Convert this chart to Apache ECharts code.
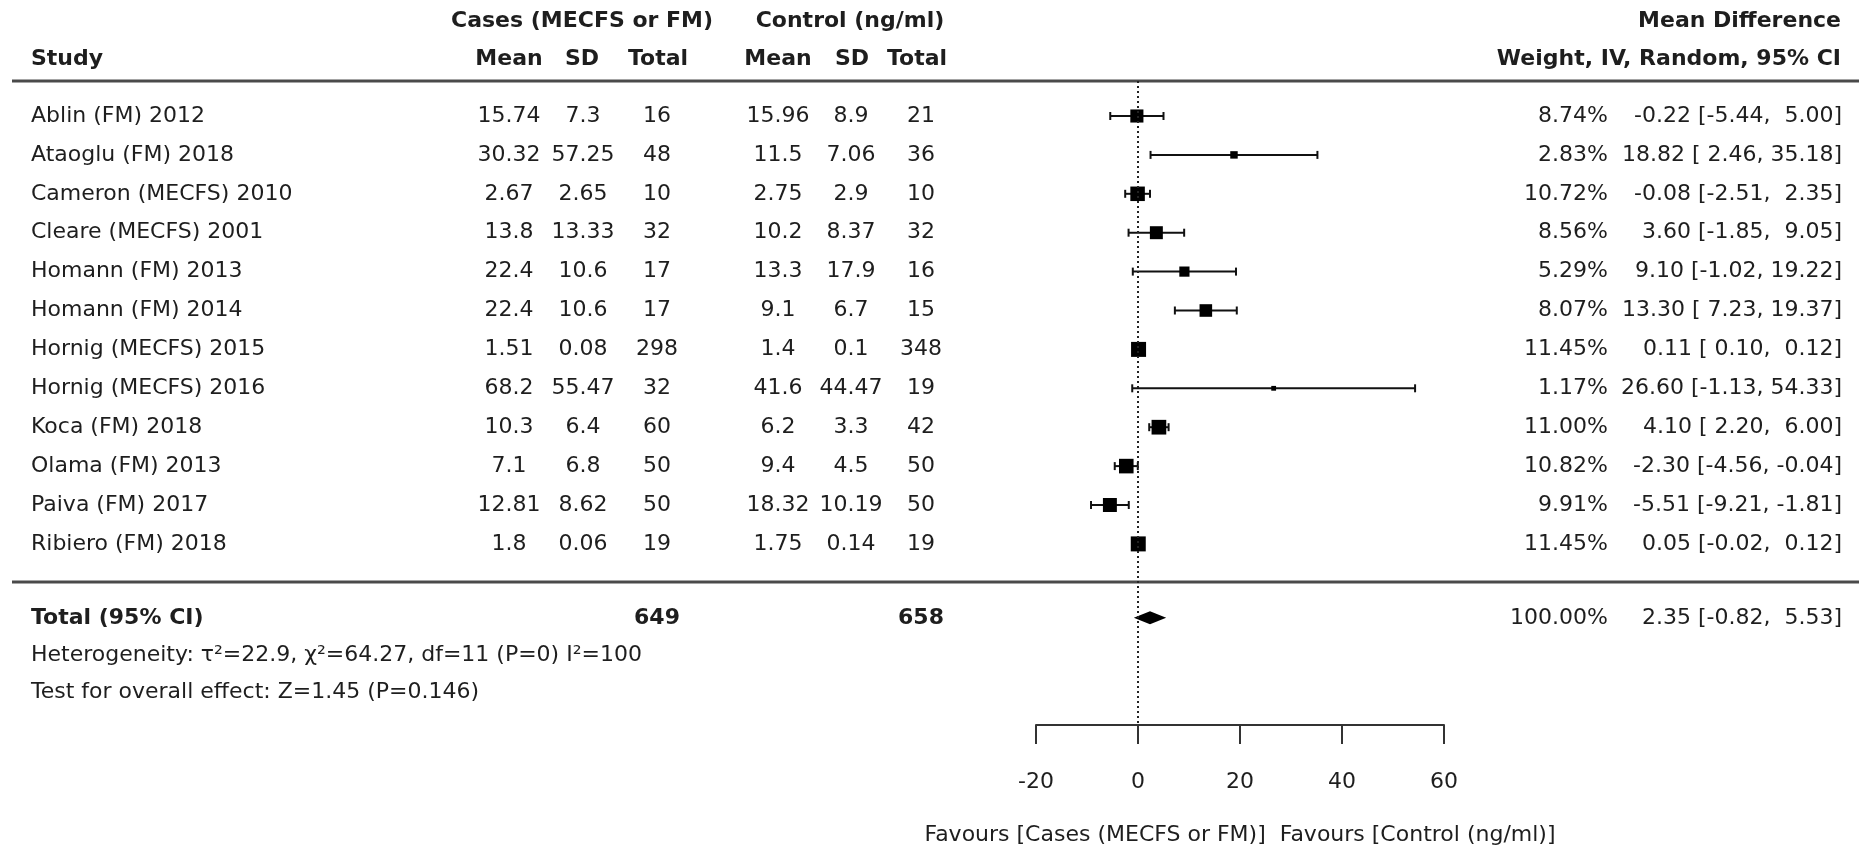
<!DOCTYPE html>
<html>
<head>
<meta charset="utf-8">
<script src="https://cdn.jsdelivr.net/npm/echarts@6/dist/echarts.min.js"></script>
<style>
html,body{margin:0;padding:0;background:#ffffff;}
#chart{width:1859px;height:845px;}
</style>
</head>
<body>
<div id="chart"></div>
<script>
// ---------------- DATA ----------------
const studies = ['Ablin (FM) 2012','Ataoglu (FM) 2018','Cameron (MECFS) 2010','Cleare (MECFS) 2001','Homann (FM) 2013','Homann (FM) 2014','Hornig (MECFS) 2015','Hornig (MECFS) 2016','Koca (FM) 2018','Olama (FM) 2013','Paiva (FM) 2017','Ribiero (FM) 2018'];
const casesMean  = [15.74, 30.32, 2.67, 13.8, 22.4, 22.4, 1.51, 68.2, 10.3, 7.1, 12.81, 1.8];
const casesSD    = [7.3, 57.25, 2.65, 13.33, 10.6, 10.6, 0.08, 55.47, 6.4, 6.8, 8.62, 0.06];
const casesTotal = [16, 48, 10, 32, 17, 17, 298, 32, 60, 50, 50, 19];
const ctrlMean   = [15.96, 11.5, 2.75, 10.2, 13.3, 9.1, 1.4, 41.6, 6.2, 9.4, 18.32, 1.75];
const ctrlSD     = [8.9, 7.06, 2.9, 8.37, 17.9, 6.7, 0.1, 44.47, 3.3, 4.5, 10.19, 0.14];
const ctrlTotal  = [21, 36, 10, 32, 16, 15, 348, 19, 42, 50, 50, 19];
const weights    = [8.74, 2.83, 10.72, 8.56, 5.29, 8.07, 11.45, 1.17, 11.00, 10.82, 9.91, 11.45];
const meanDiff   = [-0.22, 18.82, -0.08, 3.60, 9.10, 13.30, 0.11, 26.60, 4.10, -2.30, -5.51, 0.05];
const ciLower    = [-5.44, 2.46, -2.51, -1.85, -1.02, 7.23, 0.10, -1.13, 2.20, -4.56, -9.21, -0.02];
const ciUpper    = [5.00, 35.18, 2.35, 9.05, 19.22, 19.37, 0.12, 54.33, 6.00, -0.04, -1.81, 0.12];
const totalLabel = 'Total (95% CI)';
const totalCases = 649;
const totalCtrl  = 658;
const totalWeight = 100.00;
const totalMD    = 2.35;
const totalLower = -0.82;
const totalUpper = 5.53;
const xTicks = [-20, 0, 20, 40, 60];
const headerCases = 'Cases (MECFS or FM)';
const headerCtrl = 'Control (ng/ml)';
const headerEffect1 = 'Mean Difference';
const headerEffect2 = 'Weight, IV, Random, 95% CI';
const colHeaders = ['Mean', 'SD', 'Total', 'Mean', 'SD', 'Total'];
const heterogeneityText = 'Heterogeneity: τ²=22.9, χ²=64.27, df=11 (P=0) I²=100';
const overallText = 'Test for overall effect: Z=1.45 (P=0.146)';
const axisTitle = 'Favours [Cases (MECFS or FM)]  Favours [Control (ng/ml)]';

// ---------------- LAYOUT ----------------
const FONT = '"DejaVu Sans", "Liberation Sans", sans-serif';
const FS = 22;
const TXT = '#1e1e1e';
const ROW0 = 116, ROWH = 38.9;          // pixel centre of first study row, row pitch
const GRID_TOP = 81, GRID_BOTTOM_Y = 725;
const TOTAL_ROW = 12.9;
const HEAD1_Y = 21, HEAD2_Y = 59;
const COL = {study: 31, cMean: 509, cSD: 583, cTot: 657, kMean: 778, kSD: 851, kTot: 921, weight: 1608, ci: 1842};
const yMin = (GRID_TOP - ROW0) / ROWH;
const yMax = (GRID_BOTTOM_Y - ROW0) / ROWH;

function pad5(v) { const s = v.toFixed(2); return s.length < 5 ? ' '.repeat(5 - s.length) + s : s; }
function ciText(m, lo, hi) { return m.toFixed(2) + ' [' + pad5(lo) + ', ' + pad5(hi) + ']'; }

const tableRows = studies.map((s, i) => ({
  row: i, bold: false,
  cells: [
    [COL.study, s, 'left'],
    [COL.cMean, String(casesMean[i]), 'center'],
    [COL.cSD, String(casesSD[i]), 'center'],
    [COL.cTot, String(casesTotal[i]), 'center'],
    [COL.kMean, String(ctrlMean[i]), 'center'],
    [COL.kSD, String(ctrlSD[i]), 'center'],
    [COL.kTot, String(ctrlTotal[i]), 'center'],
    [COL.weight, weights[i].toFixed(2) + '%', 'right'],
    [COL.ci, ciText(meanDiff[i], ciLower[i], ciUpper[i]), 'right']
  ]
}));
const totalRow = {
  row: TOTAL_ROW,
  cells: [
    [COL.study, totalLabel, 'left', true],
    [COL.cTot, String(totalCases), 'center', true],
    [COL.kTot, String(totalCtrl), 'center', true],
    [COL.weight, totalWeight.toFixed(2) + '%', 'right'],
    [COL.ci, ciText(totalMD, totalLower, totalUpper), 'right']
  ]
};
const allRows = tableRows.concat([totalRow]);

function textEl(x, y, s, align, bold) {
  return {
    type: 'text', x: x, y: y,
    style: {text: s, align: align, verticalAlign: 'middle', fill: TXT,
            font: (bold ? 'bold ' : '') + FS + 'px ' + FONT}
  };
}

const chart = echarts.init(document.getElementById('chart'), null, {renderer: 'canvas'});

const headerGraphics = [
  textEl(582, HEAD1_Y, headerCases, 'center', true),
  textEl(850, HEAD1_Y, headerCtrl, 'center', true),
  textEl(1841, HEAD1_Y, headerEffect1, 'right', true),
  textEl(COL.study, HEAD2_Y, 'Study', 'left', true),
  textEl(COL.cMean, HEAD2_Y, colHeaders[0], 'center', true),
  textEl(582, HEAD2_Y, colHeaders[1], 'center', true),
  textEl(658, HEAD2_Y, colHeaders[2], 'center', true),
  textEl(COL.kMean, HEAD2_Y, colHeaders[3], 'center', true),
  textEl(852, HEAD2_Y, colHeaders[4], 'center', true),
  textEl(917, HEAD2_Y, colHeaders[5], 'center', true),
  textEl(1841, HEAD2_Y, headerEffect2, 'right', true),
  {type: 'line', shape: {x1: 12, y1: 81, x2: 1859, y2: 81}, style: {stroke: '#4a4a4a', lineWidth: 3}},
  {type: 'line', shape: {x1: 12, y1: 582, x2: 1859, y2: 582}, style: {stroke: '#4a4a4a', lineWidth: 3}},
  textEl(COL.study, 655, heterogeneityText, 'left', false),
  textEl(COL.study, 692, overallText, 'left', false)
];

const option = {
  backgroundColor: '#ffffff',
  animation: false,
  grid: {left: 1036, right: 1859 - 1444, top: GRID_TOP, bottom: 845 - GRID_BOTTOM_Y, containLabel: false, outerBoundsMode: 'none'},
  xAxis: {
    type: 'value', min: xTicks[0], max: xTicks[xTicks.length - 1], interval: xTicks[1] - xTicks[0],
    axisLine: {show: true, onZero: false, lineStyle: {color: '#333', width: 2}},
    axisTick: {show: true, length: 19, lineStyle: {color: '#333', width: 2}},
    splitLine: {show: false},
    axisLabel: {fontSize: FS, fontFamily: FONT, color: TXT, margin: 46, showMinLabel: true, showMaxLabel: true},
    name: axisTitle, nameLocation: 'middle', nameGap: 99,
    nameTextStyle: {fontSize: FS, fontFamily: FONT, color: TXT}
  },
  yAxis: {type: 'value', inverse: true, min: yMin, max: yMax, show: false},
  graphic: headerGraphics,
  series: [
    {
      name: 'table', type: 'custom', silent: true, clip: false,
      data: allRows.map((r, i) => [0, r.row, i]),
      renderItem: function (params, api) {
        const r = allRows[params.dataIndex];
        const y = api.coord([0, r.row])[1];
        return {type: 'group', children: r.cells.map(c => textEl(c[0], y, c[1], c[2], c[3] || r.bold))};
      }
    },
    {
      name: 'studies', type: 'custom', silent: true, clip: false,
      data: studies.map((s, i) => [meanDiff[i], i, ciLower[i], ciUpper[i], weights[i]]),
      encode: {x: [0, 2, 3], y: 1},
      renderItem: function (params, api) {
        const c = api.coord([api.value(0), api.value(1)]);
        const lo = api.coord([api.value(2), api.value(1)]);
        const hi = api.coord([api.value(3), api.value(1)]);
        const s = 15 * Math.sqrt(api.value(4) / 11.45);
        const ls = {stroke: '#111', lineWidth: 2};
        return {type: 'group', children: [
          {type: 'line', shape: {x1: lo[0], y1: c[1], x2: hi[0], y2: c[1]}, style: ls},
          {type: 'line', shape: {x1: lo[0], y1: c[1] - 4, x2: lo[0], y2: c[1] + 4}, style: ls},
          {type: 'line', shape: {x1: hi[0], y1: c[1] - 4, x2: hi[0], y2: c[1] + 4}, style: ls},
          {type: 'rect', shape: {x: c[0] - s / 2, y: c[1] - s / 2, width: s, height: s}, style: {fill: '#000'}}
        ]};
      }
    },
    {
      name: 'pooled', type: 'custom', silent: true, clip: false,
      data: [[totalMD, TOTAL_ROW, totalLower, totalUpper]],
      encode: {x: [0, 2, 3], y: 1},
      renderItem: function (params, api) {
        const c = api.coord([api.value(0), api.value(1)]);
        const lo = api.coord([api.value(2), api.value(1)]);
        const hi = api.coord([api.value(3), api.value(1)]);
        const h = 6.5;
        return {type: 'polygon', shape: {points: [[lo[0], c[1]], [c[0], c[1] - h], [hi[0], c[1]], [c[0], c[1] + h]]}, style: {fill: '#000'}};
      },
      markLine: {
        silent: true, symbol: ['none', 'none'], label: {show: false},
        lineStyle: {color: '#222', width: 2, type: [2, 3]},
        data: [{xAxis: 0}]
      }
    }
  ]
};
chart.setOption(option);
</script>
</body>
</html>
